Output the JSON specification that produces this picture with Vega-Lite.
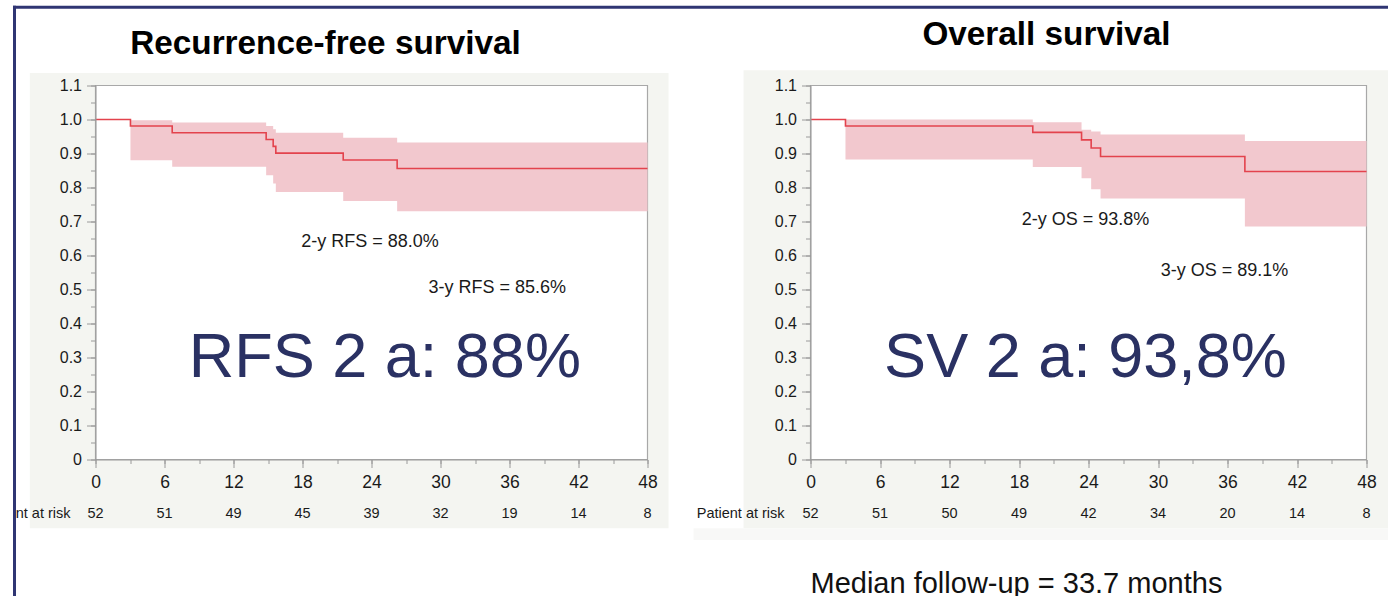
{
  "$schema": "https://vega.github.io/schema/vega-lite/v6.json",
  "background": "white",
  "padding": {"left": 10.5, "top": 3.5, "right": 0, "bottom": 0},
  "autosize": {"type": "pad"},
  "spacing": 163,
  "bounds": "flush",
  "config": {
    "view": {"stroke": null},
    "text": {"font": "Liberation Sans"},
    "axis": {
      "title": null,
      "grid": false,
      "domainColor": "#9a9a9a",
      "tickColor": "#9a9a9a",
      "labelColor": "#1a1a1a",
      "labelFont": "Liberation Sans",
      "labelOverlap": false,
      "labelFlush": false
    }
  },
  "datasets": {
    "rfs_curve": [
      {"month": 0, "survival": 1.0},
      {"month": 3.04, "survival": 0.981},
      {"month": 6.67, "survival": 0.961},
      {"month": 14.84, "survival": 0.941},
      {"month": 15.45, "survival": 0.921},
      {"month": 15.68, "survival": 0.901},
      {"month": 21.54, "survival": 0.881},
      {"month": 26.23, "survival": 0.856},
      {"month": 48, "survival": 0.856}
    ],
    "rfs_band": [
      {"month": 3.04, "lower": 0.880, "upper": 0.998},
      {"month": 6.67, "lower": 0.861, "upper": 0.991},
      {"month": 14.84, "lower": 0.836, "upper": 0.981},
      {"month": 15.45, "lower": 0.812, "upper": 0.971},
      {"month": 15.68, "lower": 0.787, "upper": 0.961},
      {"month": 21.54, "lower": 0.760, "upper": 0.946},
      {"month": 26.23, "lower": 0.730, "upper": 0.932},
      {"month": 48, "lower": 0.730, "upper": 0.932}
    ],
    "rfs_risk": [
      {"month": 0, "n": 52}, {"month": 6, "n": 51}, {"month": 12, "n": 49},
      {"month": 18, "n": 45}, {"month": 24, "n": 39}, {"month": 30, "n": 32},
      {"month": 36, "n": 19}, {"month": 42, "n": 14}, {"month": 48, "n": 8}
    ],
    "os_curve": [
      {"month": 0, "survival": 1.0},
      {"month": 3.02, "survival": 0.981},
      {"month": 19.19, "survival": 0.962},
      {"month": 23.4, "survival": 0.940},
      {"month": 24.23, "survival": 0.916},
      {"month": 25.04, "survival": 0.891},
      {"month": 37.5, "survival": 0.847},
      {"month": 48, "survival": 0.847}
    ],
    "os_band": [
      {"month": 3.02, "lower": 0.882, "upper": 1.0},
      {"month": 19.19, "lower": 0.860, "upper": 0.992},
      {"month": 23.4, "lower": 0.827, "upper": 0.970},
      {"month": 24.23, "lower": 0.795, "upper": 0.965},
      {"month": 25.04, "lower": 0.768, "upper": 0.956},
      {"month": 37.5, "lower": 0.685, "upper": 0.937},
      {"month": 48, "lower": 0.685, "upper": 0.937}
    ],
    "os_risk": [
      {"month": 0, "n": 52}, {"month": 6, "n": 51}, {"month": 12, "n": 50},
      {"month": 18, "n": 49}, {"month": 24, "n": 42}, {"month": 30, "n": 34},
      {"month": 36, "n": 20}, {"month": 42, "n": 14}, {"month": 48, "n": 8}
    ]
  },
  "hconcat": [
    {
      "width": 552,
      "height": 374,
      "data": {"values": [{"title": "Recurrence-free survival"}]},
      "resolve": {"axis": {"x": "independent", "y": "independent"}},
      "layer": [
        {
          "mark": {"type": "rect", "fill": "#f4f5f1"},
          "encoding": {
            "x": {"datum": -5.71, "type": "quantitative", "scale": {"domain": [0, 48], "nice": false, "zero": false}, "axis": null},
            "x2": {"datum": 49.83},
            "y": {"datum": 1.137, "type": "quantitative", "scale": {"domain": [0, 1.1], "nice": false, "zero": false}, "axis": null},
            "y2": {"datum": -0.202}
          }
        },
        {
          "mark": {"type": "rect", "fill": "white", "stroke": "#a8a8a8", "strokeWidth": 1.2},
          "encoding": {
            "x": {"datum": 0, "type": "quantitative", "scale": {"domain": [0, 48], "nice": false, "zero": false}, "axis": null},
            "x2": {"datum": 48},
            "y": {"datum": 0, "type": "quantitative", "scale": {"domain": [0, 1.1], "nice": false, "zero": false}, "axis": null},
            "y2": {"datum": 1.1}
          }
        },
        {
          "data": {"name": "rfs_band"},
          "mark": {"type": "area", "interpolate": "step-after", "fill": "#f2c8ce", "opacity": 1},
          "encoding": {
            "x": {"field": "month", "type": "quantitative", "scale": {"domain": [0, 48], "nice": false, "zero": false},
              "axis": {"orient": "bottom", "zindex": 1, "values": [0, 3, 6, 9, 12, 15, 18, 21, 24, 27, 30, 33, 36, 39, 42, 45, 48], "labels": false, "domain": false, "tickSize": 4}},
            "y": {"field": "lower", "type": "quantitative", "scale": {"domain": [0, 1.1], "nice": false, "zero": false},
              "axis": {"orient": "left", "zindex": 1, "values": [0, 0.05, 0.1, 0.15, 0.2, 0.25, 0.3, 0.35, 0.4, 0.45, 0.5, 0.55, 0.6, 0.65, 0.7, 0.75, 0.8, 0.85, 0.9, 0.95, 1, 1.05, 1.1], "labels": false, "domain": false, "tickSize": 5}},
            "y2": {"field": "upper"}
          }
        },
        {
          "data": {"name": "rfs_curve"},
          "mark": {"type": "line", "interpolate": "step-after", "color": "#e3434d", "strokeWidth": 1.6},
          "encoding": {
            "x": {"field": "month", "type": "quantitative", "scale": {"domain": [0, 48], "nice": false, "zero": false},
              "axis": {"orient": "bottom", "zindex": 1, "values": [0, 6, 12, 18, 24, 30, 36, 42, 48], "format": "d", "tickSize": 8, "labelFontSize": 17.5, "labelPadding": 6}},
            "y": {"field": "survival", "type": "quantitative", "scale": {"domain": [0, 1.1], "nice": false, "zero": false},
              "axis": {"orient": "left", "zindex": 1, "values": [0, 0.1, 0.2, 0.3, 0.4, 0.5, 0.6, 0.7, 0.8, 0.9, 1, 1.1], "labelExpr": "datum.value == 0 ? '0' : format(datum.value, '.1f')", "tickSize": 9, "labelFontSize": 16, "labelPadding": 5}}
          }
        },
        {
          "mark": {"type": "text", "fontSize": 33.3, "fontWeight": "bold", "align": "center", "baseline": "middle", "color": "#000000"},
          "encoding": {
            "x": {"datum": 20.0, "type": "quantitative", "axis": null},
            "y": {"datum": 1.222, "type": "quantitative", "axis": null},
            "text": {"field": "title"}
          }
        },
        {
          "data": {"values": [{"label": "2-y RFS = 88.0%"}]},
          "mark": {"type": "text", "fontSize": 18, "align": "center", "baseline": "middle", "color": "#1a1a1a"},
          "encoding": {
            "x": {"datum": 23.87, "type": "quantitative", "axis": null},
            "y": {"datum": 0.640, "type": "quantitative", "axis": null},
            "text": {"field": "label"}
          }
        },
        {
          "data": {"values": [{"label": "3-y RFS = 85.6%"}]},
          "mark": {"type": "text", "fontSize": 18, "align": "center", "baseline": "middle", "color": "#1a1a1a"},
          "encoding": {
            "x": {"datum": 34.93, "type": "quantitative", "axis": null},
            "y": {"datum": 0.505, "type": "quantitative", "axis": null},
            "text": {"field": "label"}
          }
        },
        {
          "data": {"values": [{"label": "RFS 2 a: 88%"}]},
          "mark": {"type": "text", "fontSize": 63, "align": "center", "baseline": "alphabetic", "color": "#2a3163"},
          "encoding": {
            "x": {"datum": 25.16, "type": "quantitative", "axis": null},
            "y": {"datum": 0.243, "type": "quantitative", "axis": null},
            "text": {"field": "label"}
          }
        },
        {
          "data": {"name": "rfs_risk"},
          "mark": {"type": "text", "fontSize": 14.5, "align": "center", "baseline": "middle", "color": "#1a1a1a"},
          "encoding": {
            "x": {"field": "month", "type": "quantitative", "scale": {"domain": [0, 48], "nice": false, "zero": false}, "axis": null},
            "y": {"datum": -0.159, "type": "quantitative", "axis": null},
            "text": {"field": "n"}
          }
        },
        {
          "data": {"values": [{"label": "nt at risk"}]},
          "mark": {"type": "text", "fontSize": 14.5, "align": "right", "baseline": "middle", "color": "#1a1a1a"},
          "encoding": {
            "x": {"datum": -2.17, "type": "quantitative", "axis": null},
            "y": {"datum": -0.159, "type": "quantitative", "axis": null},
            "text": {"field": "label"}
          }
        },
        {
          "mark": {"type": "rule", "color": "#2f3573", "strokeWidth": 3},
          "encoding": {
            "x": {"datum": -7.043, "type": "quantitative", "axis": null},
            "y": {"datum": 1.3347, "type": "quantitative", "axis": null},
            "y2": {"datum": -0.4032}
          }
        },
        {
          "mark": {"type": "rule", "color": "#2f3573", "strokeWidth": 3},
          "encoding": {
            "x": {"datum": -7.174, "type": "quantitative", "axis": null},
            "x2": {"datum": 112.43},
            "y": {"datum": 1.3303, "type": "quantitative", "axis": null}
          }
        }
      ]
    },
    {
      "width": 556,
      "height": 374,
      "data": {"values": [{"title": "Overall survival"}]},
      "resolve": {"axis": {"x": "independent", "y": "independent"}},
      "layer": [
        {
          "mark": {"type": "rect", "fill": "#f4f5f1"},
          "encoding": {
            "x": {"datum": -5.78, "type": "quantitative", "scale": {"domain": [0, 48], "nice": false, "zero": false}, "axis": null},
            "x2": {"datum": 49.9},
            "y": {"datum": 1.145, "type": "quantitative", "scale": {"domain": [0, 1.1], "nice": false, "zero": false}, "axis": null},
            "y2": {"datum": -0.202}
          }
        },
        {
          "mark": {"type": "rect", "fill": "#f8f8f7"},
          "encoding": {
            "x": {"datum": -10.1, "type": "quantitative", "scale": {"domain": [0, 48], "nice": false, "zero": false}, "axis": null},
            "x2": {"datum": 49.9},
            "y": {"datum": -0.202, "type": "quantitative", "scale": {"domain": [0, 1.1], "nice": false, "zero": false}, "axis": null},
            "y2": {"datum": -0.237}
          }
        },
        {
          "mark": {"type": "rect", "fill": "white", "stroke": "#a8a8a8", "strokeWidth": 1.2},
          "encoding": {
            "x": {"datum": 0, "type": "quantitative", "scale": {"domain": [0, 48], "nice": false, "zero": false}, "axis": null},
            "x2": {"datum": 48},
            "y": {"datum": 0, "type": "quantitative", "scale": {"domain": [0, 1.1], "nice": false, "zero": false}, "axis": null},
            "y2": {"datum": 1.1}
          }
        },
        {
          "data": {"name": "os_band"},
          "mark": {"type": "area", "interpolate": "step-after", "fill": "#f2c8ce", "opacity": 1},
          "encoding": {
            "x": {"field": "month", "type": "quantitative", "scale": {"domain": [0, 48], "nice": false, "zero": false},
              "axis": {"orient": "bottom", "zindex": 1, "values": [0, 3, 6, 9, 12, 15, 18, 21, 24, 27, 30, 33, 36, 39, 42, 45, 48], "labels": false, "domain": false, "tickSize": 4}},
            "y": {"field": "lower", "type": "quantitative", "scale": {"domain": [0, 1.1], "nice": false, "zero": false},
              "axis": {"orient": "left", "zindex": 1, "values": [0, 0.05, 0.1, 0.15, 0.2, 0.25, 0.3, 0.35, 0.4, 0.45, 0.5, 0.55, 0.6, 0.65, 0.7, 0.75, 0.8, 0.85, 0.9, 0.95, 1, 1.05, 1.1], "labels": false, "domain": false, "tickSize": 5}},
            "y2": {"field": "upper"}
          }
        },
        {
          "data": {"name": "os_curve"},
          "mark": {"type": "line", "interpolate": "step-after", "color": "#e3434d", "strokeWidth": 1.6},
          "encoding": {
            "x": {"field": "month", "type": "quantitative", "scale": {"domain": [0, 48], "nice": false, "zero": false},
              "axis": {"orient": "bottom", "zindex": 1, "values": [0, 6, 12, 18, 24, 30, 36, 42, 48], "format": "d", "tickSize": 8, "labelFontSize": 17.5, "labelPadding": 6}},
            "y": {"field": "survival", "type": "quantitative", "scale": {"domain": [0, 1.1], "nice": false, "zero": false},
              "axis": {"orient": "left", "zindex": 1, "values": [0, 0.1, 0.2, 0.3, 0.4, 0.5, 0.6, 0.7, 0.8, 0.9, 1, 1.1], "labelExpr": "datum.value == 0 ? '0' : format(datum.value, '.1f')", "tickSize": 9, "labelFontSize": 16, "labelPadding": 5}}
          }
        },
        {
          "mark": {"type": "text", "fontSize": 33.3, "fontWeight": "bold", "align": "center", "baseline": "middle", "color": "#000000"},
          "encoding": {
            "x": {"datum": 20.37, "type": "quantitative", "axis": null},
            "y": {"datum": 1.248, "type": "quantitative", "axis": null},
            "text": {"field": "title"}
          }
        },
        {
          "data": {"values": [{"label": "2-y OS = 93.8%"}]},
          "mark": {"type": "text", "fontSize": 18, "align": "center", "baseline": "middle", "color": "#1a1a1a"},
          "encoding": {
            "x": {"datum": 23.74, "type": "quantitative", "axis": null},
            "y": {"datum": 0.704, "type": "quantitative", "axis": null},
            "text": {"field": "label"}
          }
        },
        {
          "data": {"values": [{"label": "3-y OS = 89.1%"}]},
          "mark": {"type": "text", "fontSize": 18, "align": "center", "baseline": "middle", "color": "#1a1a1a"},
          "encoding": {
            "x": {"datum": 35.74, "type": "quantitative", "axis": null},
            "y": {"datum": 0.554, "type": "quantitative", "axis": null},
            "text": {"field": "label"}
          }
        },
        {
          "data": {"values": [{"label": "SV 2 a: 93,8%"}]},
          "mark": {"type": "text", "fontSize": 63, "align": "center", "baseline": "alphabetic", "color": "#2a3163"},
          "encoding": {
            "x": {"datum": 23.74, "type": "quantitative", "axis": null},
            "y": {"datum": 0.243, "type": "quantitative", "axis": null},
            "text": {"field": "label"}
          }
        },
        {
          "data": {"name": "os_risk"},
          "mark": {"type": "text", "fontSize": 14.5, "align": "center", "baseline": "middle", "color": "#1a1a1a"},
          "encoding": {
            "x": {"field": "month", "type": "quantitative", "scale": {"domain": [0, 48], "nice": false, "zero": false}, "axis": null},
            "y": {"datum": -0.159, "type": "quantitative", "axis": null},
            "text": {"field": "n"}
          }
        },
        {
          "data": {"values": [{"label": "Patient at risk"}]},
          "mark": {"type": "text", "fontSize": 14.5, "align": "right", "baseline": "middle", "color": "#1a1a1a"},
          "encoding": {
            "x": {"datum": -2.24, "type": "quantitative", "axis": null},
            "y": {"datum": -0.159, "type": "quantitative", "axis": null},
            "text": {"field": "label"}
          }
        },
        {
          "data": {"values": [{"label": "Median follow-up = 33.7 months"}]},
          "mark": {"type": "text", "fontSize": 29, "align": "center", "baseline": "alphabetic", "color": "#111111"},
          "encoding": {
            "x": {"datum": 17.78, "type": "quantitative", "axis": null},
            "y": {"datum": -0.393, "type": "quantitative", "axis": null},
            "text": {"field": "label"}
          }
        }
      ]
    }
  ]
}
